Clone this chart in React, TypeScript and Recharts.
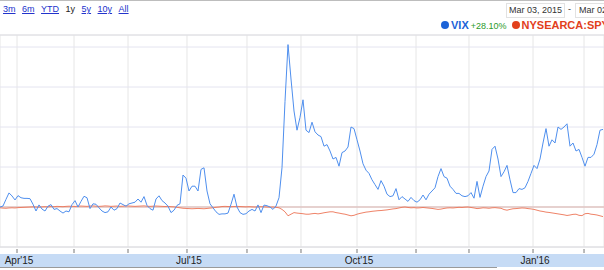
import { LineChart, Line, XAxis, YAxis, CartesianGrid, ReferenceLine } from "recharts";

// % change since start, one sample every ~3px of the original chart
const vix = [
  0, 0.6, 4.8, 8.8, 6.9, 4.4, 7.1, 5.8, 5.4, 5.4,
  5.2, 1.7, -2.5, 1.3, -1.3, -2.5, 0.5, 1.5, -1.5, -1,
  -2.5, -3.8, -2.5, -3, 1.5, 4, 0, 3.5, 6.7, 5.8,
  -1, 2, 1.7, -0.5, -2.5, -3.5, -3, 0, -2, -1,
  2.5, 1.5, 0.5, 2, 2.5, 3, 5, 3, 6.5, 1,
  -1, -2, 5, 7, 4, 2.5, 0.5, -3.5, -2, 1,
  2, 20, 18, 10, 13, 13, 10, 23.5, 24.5, 10,
  2, -0.5, -3, -4.6, -4.3, -4.3, -3.8, 1.7, 8, 0,
  -3.5, -4.6, -4.2, -2.5, -1.5, -2.5, 1.3, -3.5, 1.2, 0.8,
  0, -1.5, 0.6, 5.8, 24.6, 66, 101.5, 80, 60, 48,
  56, 67, 48, 46.5, 53, 47, 45, 44, 38, 39,
  35, 30, 31, 25.5, 34, 35, 37.5, 50, 49, 42,
  35, 27, 23, 21, 17, 14, 11, 16.5, 13, 8,
  6.5, 7, 11.5, 4.5, 6.5, 5, 3.5, 6, 4, 3,
  4.5, 7.5, 4.5, 8, 10, 12, 19, 24, 19, 18,
  13, 11, 8.5, 8.5, 7, 6.5, 7, 9, 5.5, 16,
  6, 13, 19, 22.5, 36, 38, 30, 19, 22, 26,
  17, 9, 9, 11.5, 11, 12, 16, 21, 26, 24,
  30, 40, 49, 38, 42, 40, 50, 48.5, 50, 52,
  38, 40, 35, 36, 31, 25.5, 31, 31, 33, 39,
  48, 48.5,
];

const spy = [
  -0.5, -0.7, -0.8, -0.6, -0.5, -0.6, -0.4, -0.3, -0.2, -0.1,
  0, 0.1, 0, -0.1, 0.1, 0.2, 0.1, 0.3, 0.2, 0.4,
  0.3, 0.2, 0.4, 0.5, 0.4, 0.3, 0.5, 0.6, 0.5, 0.4,
  0.6, 0.7, 0.5, 0.4, 0.5, 0.7, 0.6, 0.4, 0.5, 0.6,
  0.4, 0.5, 0.7, 0.6, 0.5, 0.4, 0.5, 0.6, 0.7, 0.5,
  0.4, 0.5, 0.6, 0.5, 0.4, 0.3, 0.4, 0.2, 0.1, -0.2,
  -0.5, -0.8, -0.9, -1, -1.1, -1, -0.9, -1, -1.1, -0.9,
  -0.7, -0.5, -0.2, 0, 0.3, 0.4, 0.3, 0.2, 0.3, 0.4,
  0.3, 0.2, 0.1, 0.2, 0.1, 0, 0.1, 0.2, 0.1, 0,
  -0.1, 0, -0.2, -0.5, -1.5, -3, -5.5, -4.5, -3.5, -3.8,
  -4, -4.2, -4.5, -4.5, -4.2, -4, -4.3, -4, -3.6, -3.3,
  -3, -3, -3.5, -3.8, -4.2, -4.5, -5, -5.5, -5.2, -4.5,
  -4, -3.6, -3.2, -3, -2.7, -2.5, -2.3, -2.2, -2, -1.8,
  -1.5, -1.2, -1, -0.6, -0.2, 0, -0.3, -0.5, -0.4, -0.6,
  -0.5, -0.3, -0.5, -0.7, -0.9, -1.2, -1.5, -1.3, -0.9, -0.6,
  -0.5, -0.6, -0.4, -0.2, -0.3, -0.1, 0, -0.3, -0.6, -1,
  -0.8, -0.5, -0.6, -0.8, -0.5, -0.4, -0.6, -0.8, -1.6, -2,
  -1.5, -1.1, -1, -0.8, -0.6, -0.7, -1, -1.2, -1.5, -2,
  -2.5, -2.8, -3.2, -3.4, -3.7, -4, -4.3, -4.6, -4.9, -5.3,
  -5, -4.6, -4.5, -5.2, -5.4, -4.2, -4, -4.5, -4.7, -5,
  -5.5, -6,
];

// month boundaries, in sample units
const monthStarts = [5.67, 24.67, 42.67, 62.33, 82.33, 100.33, 119, 138.67, 156.33, 177.67, 194.67];
const monthLabels = ["Apr'15", "", "", "Jul'15", "", "", "Oct'15", "", "", "Jan'16", ""];
const yTicks = [-25, 0, 25, 50, 75, 100];
const ranges = ["3m", "6m", "YTD", "1y", "5y", "10y", "All"];

const data = vix.map((v, i) => ({ i, vix: v, spy: spy[i] }));

const FONT = '"Liberation Sans", Arial, sans-serif';

function MonthTick({ x, y, index }: any) {
  const label = monthLabels[index];
  return (
    <g>
      <line x1={x} x2={x} y1={y + 2} y2={y + 6} stroke="#777" />
      {label && (
        <text x={x + 2} y={y + 17} textAnchor="middle" fontSize={10} fill="#222" fontFamily={FONT}>
          {label}
        </text>
      )}
    </g>
  );
}

export default function App() {
  return (
    <div style={{ position: "absolute", left: 0, top: 0, width: 604, height: 270, overflow: "hidden", background: "#fff", fontFamily: FONT }}>
      <div style={{ position: "absolute", left: 0, top: 0, width: 604, height: 1, background: "#bdbdbd" }} />
      <div style={{ position: "absolute", left: 3, top: 4, fontSize: 9, lineHeight: "11px" }}>
        {ranges.map((r) => (
          <span key={r} style={{ marginRight: 6.5, color: r === "1y" ? "#222" : "#2233cc", textDecoration: r === "1y" ? "none" : "underline" }}>
            {r}
          </span>
        ))}
      </div>
      <div style={{ position: "absolute", left: 506, top: 3, width: 57, height: 13, border: "1px solid #e2e2e2", fontSize: 9, lineHeight: "13px", color: "#333", textAlign: "center" }}>
        Mar 03, 2015
      </div>
      <div style={{ position: "absolute", left: 568, top: 3, fontSize: 9, lineHeight: "13px", color: "#333" }}>-</div>
      <div style={{ position: "absolute", left: 575, top: 3, width: 57, height: 13, border: "1px solid #e2e2e2", fontSize: 9, lineHeight: "13px", color: "#333", paddingLeft: 3 }}>
        Mar 02, 2016
      </div>
      <div style={{ position: "absolute", left: 441, top: 19, whiteSpace: "nowrap", display: "flex", alignItems: "center", height: 12 }}>
        <span style={{ width: 8, height: 8, borderRadius: 4, background: "#1c63d8", marginRight: 2 }} />
        <span style={{ fontSize: 11, fontWeight: "bold", color: "#1c63d8" }}>VIX</span>
        <span style={{ fontSize: 9, color: "#2b9a2b", marginLeft: 2, marginTop: 2 }}>+28.10%</span>
        <span style={{ width: 8, height: 8, borderRadius: 4, background: "#e2401c", marginLeft: 5, marginRight: 2 }} />
        <span style={{ fontSize: 11, fontWeight: "bold", color: "#e2401c" }}>NYSEARCA:SPY</span>
      </div>
      <div style={{ position: "absolute", left: 0, top: 254, width: 604, height: 13, background: "#c6dbf5" }} />
      <div style={{ position: "absolute", left: 0, top: 267, width: 497, height: 1, background: "#9a9a9a" }} />
      <div style={{ position: "absolute", left: 0, top: 0 }}>
        <LineChart width={604} height={270} data={data} margin={{ top: 35, right: 0, left: 0, bottom: 0 }}>
          <CartesianGrid horizontal={false} stroke="#e6e6e6" />
          <CartesianGrid vertical={false} stroke="#e4e4f0" />
          <XAxis
            dataKey="i"
            type="number"
            domain={[0, 201.33]}
            allowDataOverflow
            ticks={monthStarts}
            interval={0}
            height={23}
            tickSize={0}
            tickMargin={0}
            axisLine={{ stroke: "#dcdcdc" }}
            tick={<MonthTick />}
          />
          <YAxis hide domain={[-25, 107.5]} ticks={yTicks} allowDataOverflow />
          <ReferenceLine y={107.5} stroke="#e0e0e0" />
          <ReferenceLine y={0} stroke="#e2c6c2" strokeWidth={1.5} />
          <Line type="linear" dataKey="spy" stroke="#ec7456" strokeWidth={0.9} dot={false} isAnimationActive={false} />
          <Line type="linear" dataKey="vix" stroke="#4f8fee" strokeWidth={1} dot={false} isAnimationActive={false} />
        </LineChart>
      </div>
    </div>
  );
}
